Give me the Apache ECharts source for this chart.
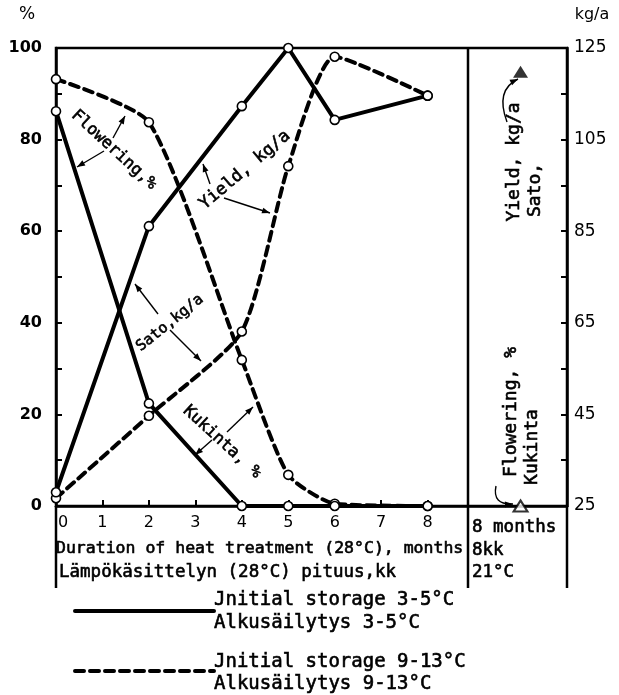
<!DOCTYPE html>
<html>
<head>
<meta charset="utf-8">
<script src="https://cdn.jsdelivr.net/npm/echarts@6/dist/echarts.min.js"></script>
<style>
html, body { margin: 0; padding: 0; background: #fff; }
#chart { width: 619px; height: 695px; }
</style>
</head>
<body>
<div id="chart"></div>
<script>
// months of heat treatment (28 C)
var months = [0, 2, 4, 5, 6, 8];
// flowering, % (left axis)
var flowerCold = [86.2, 22.4, 0, 0, 0, 0];     // initial storage 3-5 C
var flowerWarm = [93.2, 83.8, 31.9, 6.8, 0.5, 0]; // initial storage 9-13 C
// yield, kg/a (right axis)
var yieldCold = [28.0, 86.1, 112.3, 125, 109.3, 114.6];
var yieldWarm = [26.7, 44.7, 63.1, 99.2, 123.1, 114.6];
// control: 8 months at 21 C, drawn in the side column
var controlX = 10;
var controlYield = 119.8;
var controlFlower = 0;
// axis labels
var xLabels = [0, 1, 2, 3, 4, 5, 6, 7, 8];
var xTicks = [1, 2, 3, 4, 5, 6, 7, 8];
var leftLabels = [0, 20, 40, 60, 80, 100];
var leftTicks = [10, 20, 30, 40, 50, 60, 70, 80, 90];
var rightLabels = [25, 45, 65, 85, 105, 125];
var rightTicks = [35, 45, 55, 65, 75, 85, 95, 105, 115];

var FONT = 'DejaVu Sans';
var MONO = 'DejaVu Sans Mono';

function pairs(xs, ys) {
    return xs.map(function (x, i) { return [x, ys[i]]; });
}

function lineSeries(data, yIdx, dashed) {
    return {
        type: 'line',
        yAxisIndex: yIdx,
        data: data,
        smooth: dashed ? 0.2 : false,
        symbol: 'circle',
        symbolSize: 9,
        itemStyle: { color: '#fff', borderColor: '#000', borderWidth: 1.6 },
        lineStyle: {
            color: '#000',
            width: 4,
            type: dashed ? [9, 6] : 'solid',
            cap: 'round'
        },
        z: dashed ? 3 : 4,
        silent: true
    };
}

// annotation helpers (pixel positions)
function txt(s, x, y, rot, size, align, family) {
    return {
        type: 'text', x: x, y: y, rotation: rot || 0, z: 10,
        style: {
            text: s, fill: '#000',
            stroke: family ? null : '#000', lineWidth: 0.6,
            font: (size || 15) + 'px "' + (family || MONO) + '"',
            textAlign: align || 'center', textVerticalAlign: 'middle'
        }
    };
}

function head(x1, y1, x2, y2) {
    var a = Math.atan2(y2 - y1, x2 - x1), L = 8, w = 3;
    var c = Math.cos(a), s = Math.sin(a);
    return {
        type: 'polygon', z: 10,
        shape: { points: [[x2, y2], [x2 - L * c + w * s, y2 - L * s - w * c], [x2 - L * c - w * s, y2 - L * s + w * c]] },
        style: { fill: '#000' }
    };
}

function arrow(x1, y1, x2, y2) {
    return [
        { type: 'line', z: 10, shape: { x1: x1, y1: y1, x2: x2, y2: y2 }, style: { stroke: '#000', lineWidth: 1.4 } },
        head(x1, y1, x2, y2)
    ];
}

function curvedArrow(x1, y1, cx, cy, x2, y2) {
    return [
        { type: 'bezierCurve', z: 10, shape: { x1: x1, y1: y1, cpx1: cx, cpy1: cy, x2: x2, y2: y2 }, style: { stroke: '#000', lineWidth: 1.4, fill: null } },
        head(cx, cy, x2, y2)
    ];
}

function vline(x, y1, y2) {
    return { type: 'line', z: 5, shape: { x1: x, y1: y1, x2: x, y2: y2 }, style: { stroke: '#000', lineWidth: 2.5 } };
}

var graphics = [].concat(
    // units
    txt('%', 27, 15, 0, 17, 'center', FONT),
    txt('kg/a', 592, 15, 0, 16, 'center', FONT),
    // rotated curve labels
    txt('Flowering,%', 114, 150, -0.74, 16.5),
    txt('Yield, kg/a', 245, 170, 0.70, 17),
    txt('Sato,kg/a', 170, 323, 0.68, 15),
    txt('Kukinta, %', 222, 442, -0.74, 16.5),
    arrow(113, 138, 125, 116),
    arrow(104, 151, 77, 167),
    arrow(210, 184, 203, 164),
    arrow(224, 198, 270, 213),
    arrow(158, 314, 135, 284),
    arrow(170, 330, 201, 361),
    arrow(227, 432, 253, 407),
    arrow(212, 440, 195, 455),
    // side column
    txt('Yield, kg/a', 514, 162, Math.PI / 2, 18),
    txt('Sato,', 535, 190, Math.PI / 2, 18),
    curvedArrow(507, 122, 495, 90, 518, 79),
    txt('Flowering, %', 511, 412, Math.PI / 2, 18),
    txt('Kukinta', 532, 447, Math.PI / 2, 18),
    curvedArrow(496, 486, 492, 505, 513, 504),
    // divider and frame extensions below the axis
    vline(468, 48, 588),
    vline(56, 506, 588),
    vline(567, 506, 588),
    // bottom texts
    txt('8 months', 472, 527, 0, 17.5, 'left'),
    txt('8kk', 472, 550, 0, 17.5, 'left'),
    txt('21\u00b0C', 472, 572, 0, 17.5, 'left'),
    txt('Duration of heat treatment (28\u00b0C), months', 56, 549, 0, 16.5, 'left'),
    txt('L\u00e4mp\u00f6k\u00e4sittelyn (28\u00b0C) pituus,kk', 59, 572, 0, 17.5, 'left'),
    // legend
    { type: 'line', shape: { x1: 75, y1: 611, x2: 214, y2: 611 }, style: { stroke: '#000', lineWidth: 4, lineCap: 'round' } },
    { type: 'line', shape: { x1: 75, y1: 671, x2: 214, y2: 671 }, style: { stroke: '#000', lineWidth: 4, lineDash: [9, 6], lineCap: 'round' } },
    txt('Jnitial storage 3-5\u00b0C', 214, 600, 0, 19, 'left'),
    txt('Alkus\u00e4ilytys 3-5\u00b0C', 214, 623, 0, 19, 'left'),
    txt('Jnitial storage 9-13\u00b0C', 214, 662, 0, 19, 'left'),
    txt('Alkus\u00e4ilytys 9-13\u00b0C', 214, 684, 0, 19, 'left')
);

var myChart = echarts.init(document.getElementById('chart'));

var option = {
    backgroundColor: '#fff',
    animation: false,
    grid: {
        left: 56, right: 52, top: 48, bottom: 189,
        show: true, borderColor: '#000', borderWidth: 2.5
    },
    xAxis: {
        type: 'value',
        min: 0, max: 11,
        splitLine: { show: false },
        axisLine: { lineStyle: { color: '#000', width: 2.5 } },
        axisTick: { inside: true, length: 6, customValues: xTicks, lineStyle: { color: '#000', width: 2 } },
        axisLabel: {
            customValues: xLabels,
            margin: 9,
            color: '#000',
            fontFamily: FONT,
            fontSize: 16,
            formatter: function (v) { return v === 0 ? '{z|0}' : String(v); },
            rich: { z: { padding: [0, 0, 0, 14], fontFamily: FONT, fontSize: 16, color: '#000' } }
        }
    },
    yAxis: [
        {
            type: 'value', position: 'left',
            min: 0, max: 100, interval: 20,
            splitLine: { show: false },
            axisLine: { show: true, lineStyle: { color: '#000', width: 2.5 } },
            axisTick: { show: true, inside: true, length: 6, customValues: leftTicks, lineStyle: { color: '#000', width: 2 } },
            axisLabel: { customValues: leftLabels, margin: 14, color: '#000', fontFamily: FONT, fontSize: 16, fontWeight: 'bold' }
        },
        {
            type: 'value', position: 'right',
            min: 25, max: 125, interval: 20,
            splitLine: { show: false },
            axisLine: { show: true, lineStyle: { color: '#000', width: 2.5 } },
            axisTick: { show: true, inside: true, length: 6, customValues: rightTicks, lineStyle: { color: '#000', width: 2 } },
            axisLabel: { customValues: rightLabels, margin: 7, color: '#000', fontFamily: FONT, fontSize: 17 }
        }
    ],
    series: [
        lineSeries(pairs(months, flowerWarm), 0, true),
        lineSeries(pairs(months, yieldWarm), 1, true),
        lineSeries(pairs(months, flowerCold), 0, false),
        lineSeries(pairs(months, yieldCold), 1, false),
        {
            type: 'scatter', yAxisIndex: 1, silent: true,
            data: [[controlX, controlYield]],
            symbol: 'triangle', symbolSize: [15, 12],
            itemStyle: { color: '#000' }, z: 6
        },
        {
            type: 'scatter', yAxisIndex: 0, silent: true,
            data: [[controlX, controlFlower]],
            symbol: 'triangle', symbolSize: [14, 11],
            itemStyle: { color: '#fff', borderColor: '#000', borderWidth: 2 }, z: 6
        }
    ],
    graphic: graphics
};

myChart.setOption(option);
</script>
</body>
</html>
